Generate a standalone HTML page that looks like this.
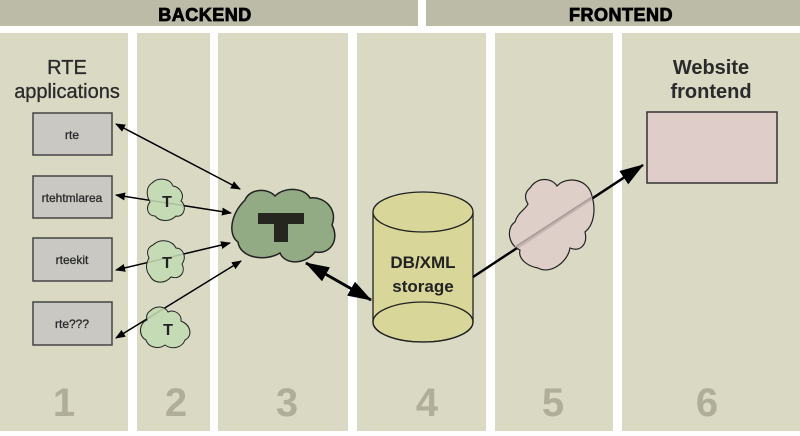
<!DOCTYPE html>
<html><head><style>
body{margin:0;width:800px;height:431px;overflow:hidden;background:#fff}
</style></head><body>
<svg width="800" height="431" xmlns="http://www.w3.org/2000/svg" font-family="Liberation Sans, Arial, sans-serif">
<defs>
<marker id="a" markerWidth="10" markerHeight="8" refX="9" refY="4" orient="auto-start-reverse" markerUnits="userSpaceOnUse"><path d="M0,0L10,4L0,8z" fill="#000"/></marker>
<marker id="b" markerWidth="24" markerHeight="16" refX="23" refY="8" orient="auto-start-reverse" markerUnits="userSpaceOnUse"><path d="M0,0L24,8L0,16z" fill="#000"/></marker>
</defs>
<rect x="0" y="0" width="418" height="26" fill="#bcbba7"/>
<rect x="426" y="0" width="374" height="26" fill="#bcbba7"/>
<text x="205" y="21" font-size="18" font-weight="bold" text-anchor="middle" fill="#000" stroke="#000" stroke-width="0.8" letter-spacing="0.5">BACKEND</text>
<text x="621" y="21" font-size="18" font-weight="bold" text-anchor="middle" fill="#000" stroke="#000" stroke-width="0.8" letter-spacing="0.5">FRONTEND</text>
<g fill="#dad9c3">
<rect x="0" y="33" width="128" height="398"/>
<rect x="137" y="33" width="73" height="398"/>
<rect x="218" y="33" width="130" height="398"/>
<rect x="357" y="33" width="129" height="398"/>
<rect x="495" y="33" width="118" height="398"/>
<rect x="622" y="33" width="178" height="398"/>
</g>
<g font-size="40" font-weight="bold" fill="#b0ae98" text-anchor="middle">
<text x="64" y="416">1</text><text x="176" y="416">2</text><text x="287" y="416">3</text>
<text x="427" y="416">4</text><text x="553" y="416">5</text><text x="707" y="416">6</text>
</g>
<g font-size="20" fill="#2a2a2a" text-anchor="middle">
<text x="67" y="74" stroke="#2a2a2a" stroke-width="0.3">RTE</text><text x="67" y="98" stroke="#2a2a2a" stroke-width="0.3">applications</text>
<text x="711" y="74" font-weight="bold">Website</text><text x="711" y="98" font-weight="bold">frontend</text>
</g>
<g fill="#c9c8c3" stroke="#444" stroke-width="1.5">
<rect x="33" y="113" width="79" height="42"/>
<rect x="33" y="176" width="79" height="42"/>
<rect x="33" y="238" width="79" height="43"/>
<rect x="33" y="302" width="79" height="43"/>
</g>
<g font-size="12" fill="#2a2a2a" text-anchor="middle" stroke="#2a2a2a" stroke-width="0.3">
<text x="72" y="139">rte</text><text x="72" y="202">rtehtmlarea</text>
<text x="72" y="264">rteekit</text><text x="72" y="328">rte???</text>
</g>
<rect x="647" y="112" width="130" height="71" fill="#dfcdca" stroke="#333" stroke-width="1.5"/>
<!-- cylinder -->
<path d="M373,212 V322 A50,20 0 0 0 473,322 V212" fill="#d8d699" stroke="#222" stroke-width="1.3"/>
<ellipse cx="423" cy="322" rx="50" ry="20" fill="none" stroke="#222" stroke-width="1.3"/>
<ellipse cx="423" cy="212" rx="50" ry="20" fill="#d8d699" stroke="#222" stroke-width="1.3"/>
<text x="423" y="268" font-size="17" font-weight="bold" text-anchor="middle" fill="#222">DB/XML</text>
<text x="423" y="292" font-size="17" font-weight="bold" text-anchor="middle" fill="#222">storage</text>
<!-- arrows (under clouds) -->
<g stroke="#000" stroke-width="1.5" fill="none">
<line x1="116" y1="124" x2="240" y2="189" marker-start="url(#a)" marker-end="url(#a)"/>
<line x1="116" y1="195" x2="231" y2="213" marker-start="url(#a)" marker-end="url(#a)"/>
<line x1="116" y1="270" x2="230" y2="243" marker-start="url(#a)" marker-end="url(#a)"/>
<line x1="116" y1="338" x2="241" y2="261" marker-start="url(#a)" marker-end="url(#a)"/>
</g>
<line x1="473" y1="277" x2="643" y2="165" stroke="#000" stroke-width="2.5" marker-end="url(#b)"/>
<!-- big cloud -->
<path d="M245,200 C250,188 268,188 275,196 C285,186 305,188 310,198 C325,196 338,210 332,225 C340,240 330,255 315,252 C305,265 285,265 280,253 C265,262 240,258 238,242 C228,235 230,215 245,200 Z" fill="#93ab85" stroke="#222" stroke-width="1.5"/>
<path d="M258,213 H304 V224 H288 V242 H274 V224 H258 Z" fill="#25271f"/>
<!-- small clouds -->
<g fill="#c2dbb3" fill-opacity="0.88" stroke="#222" stroke-width="1">
<path d="M152,183 C158,177 170,178 173,186 C180,187 185,195 181,201 C188,207 183,218 176,216 C170,222 160,222 155,216 C148,216 145,208 150,202 C146,195 146,187 152,183Z"/>
<path d="M153,245 C160,238 172,240 176,248 C183,248 187,257 182,264 C186,272 180,280 171,277 C165,284 154,284 150,276 C145,270 146,263 149,258 C146,252 148,247 153,245Z"/>
<path d="M150,311 C156,305 165,306 168,312 C174,309 182,314 181,321 C191,325 193,336 185,340 C182,348 172,350 165,345 C158,350 148,347 146,340 C138,336 139,323 147,320 C146,316 147,313 150,311Z"/>
</g>
<g font-size="16" font-weight="bold" text-anchor="middle" fill="#222">
<text x="167" y="207">T</text><text x="167" y="268">T</text><text x="168" y="335">T</text>
</g>
<!-- pink cloud -->
<path d="M530,188 C538,176 552,178 557,186 C566,176 588,178 592,196 C596,210 594,225 585,232 C588,245 580,252 570,248 C568,262 550,275 538,268 C526,266 518,258 520,250 C508,245 506,228 515,222 C518,212 525,210 528,204 C524,198 525,192 530,188Z" fill="#dfcdca" fill-opacity="0.88" stroke="#222" stroke-width="1.2"/>
<line x1="515" y1="247" x2="592" y2="197" stroke="#a89a98" stroke-width="1.5"/>
<line x1="306" y1="263" x2="371" y2="300" stroke="#000" stroke-width="3" marker-start="url(#b)" marker-end="url(#b)"/>
</svg>
</body></html>
